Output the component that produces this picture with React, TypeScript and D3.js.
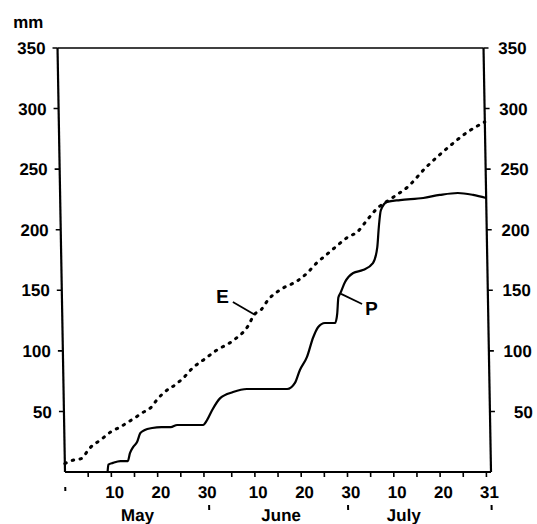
import * as d3 from "d3";

// days counted from the end of April: May d -> d, June d -> 31 + d, July d -> 61 + d
const eDays = [0, 2, 3.5, 5.5, 8, 10, 12, 15, 17, 19, 20, 21.5, 24.5, 26, 28, 30.5, 33, 37, 40, 41.5, 43, 44.5, 47, 51, 53, 55, 57.5, 60, 62, 64, 66, 68, 72, 75, 79, 84, 88, 92];
const eValues = [7, 10, 11, 20, 27, 33, 37, 44, 49, 54, 59, 65, 73, 78, 86, 93, 100, 109, 120, 130, 134, 142, 150, 158, 164, 172, 180, 188, 194, 198, 207, 216, 227, 235, 251, 268, 280, 289];

const pDays = [9.2, 9.4, 10.4, 12, 13.6, 14.1, 14.8, 15.7, 16.4, 17.4, 19, 21, 23, 24.4, 26.5, 30, 30.9, 32, 33.8, 36.6, 39.6, 44, 48.3, 50, 51.1, 52.7, 54.1, 55.2, 56.7, 58.9, 59.4, 59.7, 60.2, 61.2, 63, 65.1, 67.3, 68.3, 68.7, 69.2, 70.6, 73.4, 78.4, 82, 85.9, 89.2, 92];
const pValues = [0, 6, 7.5, 9, 9, 15.5, 20.5, 25, 32, 34.7, 36.3, 37, 37, 38.8, 38.8, 38.8, 43, 51, 61, 66, 68.5, 68.5, 68.5, 73.5, 84, 95, 111, 119.5, 123, 123, 131, 144, 148, 156.8, 164.3, 166.7, 172.5, 185.7, 202, 216, 223, 224.5, 226.2, 228.7, 230.3, 228.7, 226.2];

const yTicks = [50, 100, 150, 200, 250, 300, 350];
const minorTicks = [5, 10, 15, 20, 25, 30, 36, 41, 46, 51, 56, 61, 66, 71, 76, 81, 86, 91];
const tickLabels = ["10", "20", "30", "10", "20", "30", "10", "20", "31"];
const tickLabelDays = [10, 20, 30, 41, 51, 61, 71, 81, 92];
const months = ["May", "June", "July"];
const monthCenters = [15.5, 46.5, 73];
const monthBounds = [31, 61, 92];

const width = 537;
const height = 524;
const font = "'Liberation Sans', Arial, Helvetica, sans-serif";

const x = d3.scaleLinear().domain([0, 92]).range([65, 491]);
const y = d3.scaleLinear().domain([0, 350]).range([472, 48]);

const line = d3.line<[number, number]>()
  .x((d) => x(d[0]))
  .y((d) => y(d[1]))
  .curve(d3.curveMonotoneX);

const ePath = line(eDays.map((d, i) => [d, eValues[i]]));
const pPath = line(pDays.map((d, i) => [d, pValues[i]]));

// leader lines: from label side (tail) to the curve (tip)
const eTip = [41.5, 130];
const eTail = [36.9, 140.3];
const pTip = [60.3, 147];
const pTail = [64.8, 138.7];

export default function App() {
  const x0 = x(0);
  const x1 = x(92);
  const base = y(0);

  return (
    <svg
      width={width}
      height={height}
      style={{ position: "absolute", left: 0, top: 0, display: "block", background: "#fff" }}
      fontFamily={font}
      fontWeight={700}
      fill="#000"
    >
      {/* the scanned original leans slightly to the left at the top */}
      <g transform={`translate(0,${base}) skewX(1.01) translate(0,${-base})`}>
        <text x={x0 - 44} y={28} fontSize={17}>mm</text>

        {/* frame */}
        <line x1={x0} x2={x1} y1={y(350)} y2={y(350)} stroke="#000" strokeWidth={1.6} />
        <line x1={x0} x2={x1} y1={base} y2={base} stroke="#000" strokeWidth={2.2} />
        <line x1={x0} x2={x0} y1={y(350)} y2={base} stroke="#000" strokeWidth={2.2} />
        <line x1={x1} x2={x1} y1={y(350)} y2={base} stroke="#000" strokeWidth={2.2} />

        {yTicks.map((t) => (
          <g key={t}>
            <line x1={x0 - 5} x2={x0} y1={y(t)} y2={y(t)} stroke="#000" strokeWidth={1.6} />
            <line x1={x1} x2={x1 + 5} y1={y(t)} y2={y(t)} stroke="#000" strokeWidth={1.6} />
            <text x={x0 - 12} y={y(t)} dy="0.36em" fontSize={17} textAnchor="end">{t}</text>
            <text x={x1 + 43} y={y(t)} dy="0.36em" fontSize={17} textAnchor="end">{t}</text>
          </g>
        ))}

        {minorTicks.map((t) => (
          <line key={t} x1={x(t)} x2={x(t)} y1={base} y2={base + 5} stroke="#000" strokeWidth={1.6} />
        ))}

        {tickLabels.map((lab, i) => (
          <text
            key={i}
            x={x(tickLabelDays[i]) + (lab === "31" ? -2 : 3)}
            y={base + 26}
            fontSize={17}
            textAnchor="middle"
          >
            {lab}
          </text>
        ))}

        <line x1={x0} x2={x0} y1={base + 15} y2={base + 19} stroke="#000" strokeWidth={2} />
        {monthBounds.map((t) => (
          <line key={t} x1={x(t)} x2={x(t)} y1={base + 33} y2={base + 38} stroke="#000" strokeWidth={2} />
        ))}

        {months.map((m, i) => (
          <text key={m} x={x(monthCenters[i])} y={base + 49} fontSize={17} textAnchor="middle">
            {m}
          </text>
        ))}

        <path
          d={ePath ?? ""}
          fill="none"
          stroke="#000"
          strokeWidth={3}
          strokeDasharray="1.5 6.5"
          strokeLinecap="round"
        />
        <path d={pPath ?? ""} fill="none" stroke="#000" strokeWidth={2.2} strokeLinejoin="round" />

        <line x1={x(eTail[0])} y1={y(eTail[1])} x2={x(eTip[0])} y2={y(eTip[1])} stroke="#000" strokeWidth={1.8} />
        <text x={x(eTail[0]) - 4} y={y(eTail[1]) + 1} fontSize={19} textAnchor="end">E</text>

        <line x1={x(pTip[0])} y1={y(pTip[1])} x2={x(pTail[0])} y2={y(pTail[1])} stroke="#000" strokeWidth={1.8} />
        <text x={x(pTail[0]) + 3} y={y(pTail[1]) + 11} fontSize={19}>P</text>
      </g>
    </svg>
  );
}
